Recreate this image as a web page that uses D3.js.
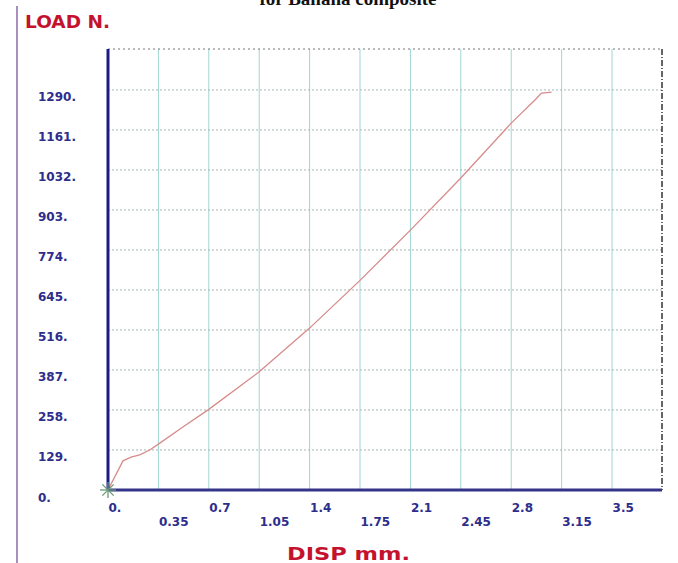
<!DOCTYPE html>
<html>
<head>
<meta charset="utf-8">
<script src="https://cdn.jsdelivr.net/npm/d3@7"></script>
<style>
  body { margin: 0; background: #fff; }
  .tick_lbl { font-family: "DejaVu Sans", sans-serif; font-weight: bold; font-size: 12px; fill: #2d2d8c; }
  .ax_title { font-family: "DejaVu Sans", sans-serif; font-weight: bold; font-size: 17px; fill: #c4122e; }
</style>
</head>
<body>
<div id="plot"></div>
<script>
var disp = [0, 0.104, 0.16, 0.22, 0.29, 0.35, 0.52, 0.7, 1.05, 1.4, 1.75, 2.1, 2.45, 2.8, 2.97, 3.01, 3.08];
var load = [0, 94, 106, 113, 129, 148, 203, 260, 381, 522, 676, 838, 1006, 1183, 1260, 1280, 1283];

var xTicks = [0, 0.35, 0.7, 1.05, 1.4, 1.75, 2.1, 2.45, 2.8, 3.15, 3.5];
var xTickLabels = ["0.", "0.35", "0.7", "1.05", "1.4", "1.75", "2.1", "2.45", "2.8", "3.15", "3.5"];
var yTicks = [0, 129, 258, 387, 516, 645, 774, 903, 1032, 1161, 1290];
var yTickLabels = ["0.", "129.", "258.", "387.", "516.", "645.", "774.", "903.", "1032.", "1161.", "1290."];

var svg_w = 678, svg_h = 563;
var left = 108, top_ = 49, right = 662, bottom = 490;

var svg = d3.select("#plot")
      .append("svg")
      .attr("width", svg_w)
      .attr("height", svg_h);

var xScale = d3.scaleLinear()
      .domain([0, 3.847])
      .range([left, right]);

var yScale = d3.scaleLinear()
      .domain([0, 1422])
      .range([bottom, top_]);

// purple margin line on the left
svg.append("line")
  .attr("x1", 17).attr("y1", 6)
  .attr("x2", 17).attr("y2", svg_h)
  .style("stroke", "#a98fbd")
  .attr("stroke-width", 2);

// caption at the top (cut off by the page edge, as in the original)
svg.append("text")
  .attr("x", 348).attr("y", 5)
  .attr("text-anchor", "middle")
  .style("font-family", "'Liberation Serif', serif")
  .style("font-weight", "bold")
  .style("font-size", "19px")
  .style("fill", "#111")
  .text("for Banana composite");

// vertical gridlines (teal)
svg.append("g")
  .selectAll("line")
  .data(xTicks.slice(1))
  .enter()
  .append("line")
  .attr("x1", function(d) { return xScale(d); })
  .attr("x2", function(d) { return xScale(d); })
  .attr("y1", top_)
  .attr("y2", bottom)
  .style("stroke", "#9fd6d2")
  .attr("stroke-width", 1);

// horizontal gridlines (dotted)
svg.append("g")
  .selectAll("line")
  .data(yTicks.slice(1))
  .enter()
  .append("line")
  .attr("x1", left)
  .attr("x2", right)
  .attr("y1", function(d) { return yScale(d); })
  .attr("y2", function(d) { return yScale(d); })
  .style("stroke", "#a9b6b6")
  .attr("stroke-width", 1)
  .style("stroke-dasharray", "2, 2");

// top and right frame
svg.append("line")
  .attr("x1", left).attr("y1", top_)
  .attr("x2", right).attr("y2", top_)
  .style("stroke", "#777")
  .style("stroke-dasharray", "2, 3");

svg.append("line")
  .attr("x1", right).attr("y1", top_)
  .attr("x2", right).attr("y2", bottom)
  .style("stroke", "#333")
  .attr("stroke-width", 1.5)
  .style("stroke-dasharray", "6, 2, 1, 2");

// the curve
var line = d3.line()
      .x(function(d, i) { return xScale(disp[i]); })
      .y(function(d) { return yScale(d); });

svg.append("path")
  .datum(load)
  .attr("d", line)
  .style("fill", "none")
  .style("stroke", "#d78b8b")
  .attr("stroke-width", 1.3);

// axes
var xAxis = d3.axisBottom()
      .scale(xScale)
      .tickValues(xTicks)
      .tickFormat(function(d, i) { return xTickLabels[i]; })
      .tickSize(0)
      .tickSizeOuter(0);

var yAxis = d3.axisLeft()
      .scale(yScale)
      .tickValues(yTicks)
      .tickFormat(function(d, i) { return yTickLabels[i]; })
      .tickSize(0)
      .tickSizeOuter(0);

var gx = svg.append("g")
  .attr("transform", "translate(0," + bottom + ")")
  .call(xAxis);
gx.select(".domain").remove();
gx.selectAll("text")
  .attr("class", "tick_lbl")
  .attr("text-anchor", "start")
  .attr("x", 0)
  .attr("dy", null)
  .attr("y", function(d, i) { return i % 2 == 0 ? 22 : 36; });

var gy = svg.append("g")
  .attr("transform", "translate(38,0)")
  .call(yAxis);
gy.select(".domain").remove();
gy.selectAll("text")
  .attr("class", "tick_lbl")
  .attr("text-anchor", "start")
  .attr("x", 0)
  .attr("dy", null)
  .attr("y", 11);

// thick blue axis lines
svg.append("line")
  .attr("x1", left).attr("y1", top_)
  .attr("x2", left).attr("y2", bottom)
  .style("stroke", "#1b1b8a")
  .attr("stroke-width", 3);

svg.append("line")
  .attr("x1", left).attr("y1", bottom)
  .attr("x2", right).attr("y2", bottom)
  .style("stroke", "#34348a")
  .attr("stroke-width", 3);

// green star marker at origin
var star = svg.append("g")
  .attr("transform", "translate(" + xScale(0) + "," + yScale(0) + ")");
[0, 45, 90, 135].forEach(function(a) {
  star.append("line")
    .attr("x1", -8).attr("y1", 0)
    .attr("x2", 8).attr("y2", 0)
    .attr("transform", "rotate(" + a + ")")
    .style("stroke", "#6a9a78")
    .attr("stroke-width", 1.3);
});

// axis titles
svg.append("text")
  .attr("class", "ax_title")
  .attr("x", 25).attr("y", 28)
  .attr("textLength", 85)
  .attr("lengthAdjust", "spacingAndGlyphs")
  .text("LOAD  N.");

svg.append("text")
  .attr("class", "ax_title")
  .attr("x", 287).attr("y", 560)
  .attr("textLength", 123)
  .attr("lengthAdjust", "spacingAndGlyphs")
  .text("DISP  mm.");
</script>
</body>
</html>
